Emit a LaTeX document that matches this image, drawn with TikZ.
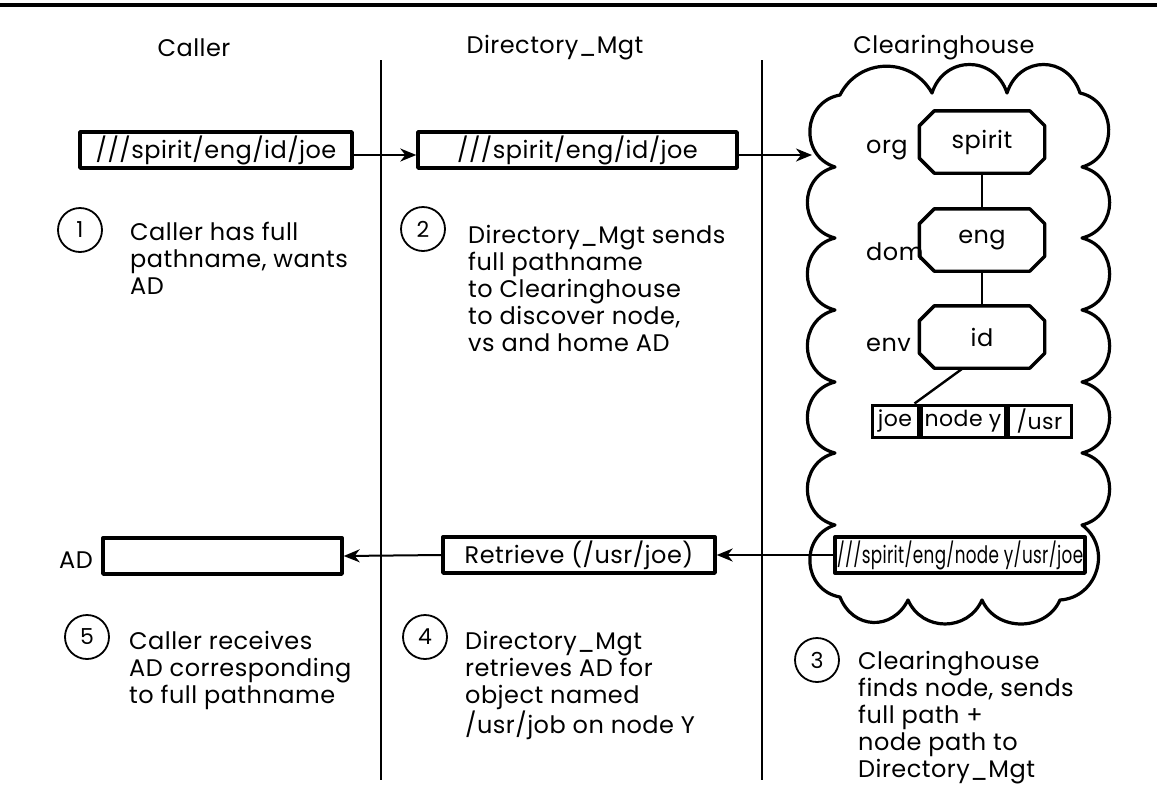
\documentclass[tikz,border=0pt]{standalone}
\usepackage{fontspec}
\setmainfont{Poppins}[LetterSpace=2]
\usetikzlibrary{arrows.meta,calc}

% one scallop of the cloud outline, bulging outwards (path runs clockwise)
\newcommand\bump[4]{.. controls ($(#1)!#4!#3:(#2)$) and ($(#2)!#4!-#3:(#1)$) .. (#2)}
% chamfered outline around a named node
\newcommand\octagon[1]{%
  \draw[octline] ([xshift=15pt]#1.north west) -- ([xshift=-15pt]#1.north east)
    -- ([yshift=-15pt]#1.north east) -- ([yshift=15pt]#1.south east)
    -- ([xshift=-15pt]#1.south east) -- ([xshift=15pt]#1.south west)
    -- ([yshift=15pt]#1.south west) -- ([yshift=-15pt]#1.north west) -- cycle;}

\begin{document}
\begin{tikzpicture}[x=1pt,y=-1pt,
  every node/.style={font=\fontsize{24}{27}\selectfont, inner sep=0pt},
  frame/.style={draw, line width=3.4pt, line join=round, minimum height=36pt},
  rule/.style={line width=2.2pt},
  link/.style={line width=2.4pt},
  flow/.style={line width=2pt, -{Stealth[length=16pt,width=13pt,inset=5pt]}},
  badge/.style={draw, circle, line width=1.8pt, minimum size=44pt, font=\fontsize{22}{24}\selectfont},
  note/.style={anchor=north west, align=left},
  octbox/.style={minimum width=125pt, minimum height=62pt},
  octline/.style={line width=3.4pt, line join=round},
  cell/.style={draw, line width=3pt, minimum height=32pt, font=\fontsize{22}{24}\selectfont},
  cloudline/.style={line width=3.2pt, line join=round},
]
\useasboundingbox (0,0) rectangle (1157,785);

% heading rule and column separators
\coordinate (barL) at (0,5);
\coordinate (barR) at (1157,5);
\draw[line width=4pt] (barL) -- (barR);
\coordinate (sep1t) at (381,60);
\coordinate (sep1b) at (381,780);
\coordinate (sep2t) at (762,60);
\coordinate (sep2b) at (762,780);
\draw[rule] (sep1t) -- (sep1b);
\draw[rule] (sep2t) -- (sep2b);

% column headings
\node (hcaller) at (194,48) {Caller};
\node (hdir) at (555,48) {Directory\_Mgt};
\node (hclear) at (944,48) {Clearinghouse};

% the Clearinghouse cloud
\coordinate (L0) at (840,95);
\coordinate (T1) at (932,93);
\coordinate (T2) at (1007,93);
\coordinate (R0) at (1080,93);
\coordinate (R1) at (1082,167);
\coordinate (R2) at (1082,238);
\coordinate (R3) at (1082,310);
\coordinate (R4) at (1082,382);
\coordinate (R5) at (1082,453);
\coordinate (R6) at (1082,525);
\coordinate (B3) at (1060,600);
\coordinate (B2) at (982,600);
\coordinate (B1) at (908,600);
\coordinate (L7) at (840,597);
\coordinate (L6) at (835,525);
\coordinate (L5) at (835,453);
\coordinate (L4) at (835,382);
\coordinate (L3) at (835,310);
\coordinate (L2) at (835,238);
\coordinate (L1) at (835,167);
\draw[cloudline] (L0) \bump{L0}{T1}{62}{42pt} \bump{T1}{T2}{72}{40pt} \bump{T2}{R0}{72}{40pt}
  \bump{R0}{R1}{76}{38pt} \bump{R1}{R2}{76}{38pt} \bump{R2}{R3}{76}{38pt}
  \bump{R3}{R4}{76}{38pt} \bump{R4}{R5}{76}{38pt} \bump{R5}{R6}{76}{38pt}
  \bump{R6}{B3}{70}{38pt} \bump{B3}{B2}{66}{35pt} \bump{B2}{B1}{66}{35pt}
  \bump{B1}{L7}{66}{35pt} \bump{L7}{L6}{76}{38pt} \bump{L6}{L5}{76}{38pt}
  \bump{L5}{L4}{76}{38pt} \bump{L4}{L3}{76}{38pt} \bump{L3}{L2}{76}{38pt}
  \bump{L2}{L1}{76}{38pt} \bump{L1}{L0}{76}{38pt} -- cycle;

% request path
\node[frame, minimum width=272pt] (src) at (216,150) {///spirit/eng/id/joe};
\node[frame, minimum width=319pt] (req) at (577.5,150) {///spirit/eng/id/joe};
\coordinate (cloudin) at (812,155);
\draw[flow] ([yshift=-5pt]src.east) -- ([yshift=-5pt]req.west);
\draw[flow] ([yshift=-5pt]req.east) -- (cloudin);

% naming tree inside the cloud
\node[anchor=west] (org) at (866,150) {org};
\node[anchor=west] (dom) at (866,252) {dom};
\node[anchor=west] (env) at (866,345) {env};
\node[octbox] (spirit) at (982,142) {spirit};
\node[octbox] (eng) at (982,240) {eng};
\node[octbox] (idn) at (982,337) {id};
\octagon{spirit}
\octagon{eng}
\octagon{idn}
\draw[link] (spirit.south) -- (eng.north);
\draw[link] (eng.south) -- (idn.north);

\node[cell, minimum width=46pt] (joe) at (895,421) {joe};
\node[cell, minimum width=84pt, anchor=west] (nodey) at (joe.east) {node y};
\node[cell, minimum width=63pt, anchor=west] (usr) at (nodey.east) {/usr};
\draw[link] ([xshift=-19pt]idn.south) -- ([xshift=-5pt]joe.north east);

% reply path
\node[frame, minimum width=250pt] (full) at (960,555) {\scalebox{0.7}[1]{///spirit/eng/node y/usr/joe}};
\node[frame, minimum width=272pt] (retr) at (579,555) {Retrieve (/usr/joe)};
\node[frame, minimum width=239pt] (ad) at (222.5,556) {};
\node (adlabel) at (76,560) {AD};
\draw[flow] (full.west) -- (retr.east);
\draw[flow] (retr.west) -- (ad.east);

% numbered steps
\node[badge] (n1) at (80,230) {1};
\node[note] (t1) at (130,222) {Caller has full\\pathname, wants\\AD};
\node[badge] (n2) at (423,229) {2};
\node[note] (t2) at (468,225) {Directory\_Mgt sends\\full pathname\\to Clearinghouse\\to discover node,\\vs and home AD};
\node[badge] (n3) at (817,660) {3};
\node[note] (t3) at (858,651) {Clearinghouse\\finds node, sends\\full path +\\node path to\\Directory\_Mgt};
\node[badge] (n4) at (425,637) {4};
\node[note] (t4) at (465,631) {Directory\_Mgt\\retrieves AD for\\object named\\/usr/job on node Y};
\node[badge] (n5) at (87,637) {5};
\node[note] (t5) at (129,631) {Caller receives\\AD corresponding\\to full pathname};
\end{tikzpicture}
\end{document}
